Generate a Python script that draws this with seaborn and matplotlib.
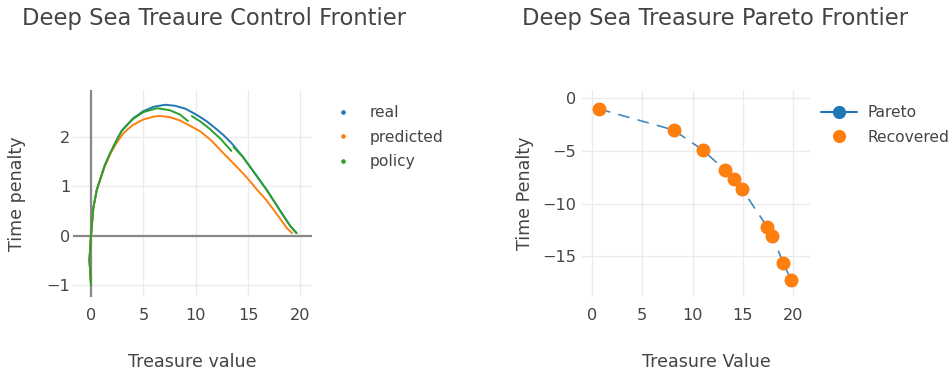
import pandas as pd
import matplotlib
matplotlib.use("Agg")
import matplotlib.pyplot as plt
from matplotlib.lines import Line2D
import seaborn as sns

# values
series_names = ["real", "predicted", "policy"]

real_x = [0.0, -0.15, 0.0, 0.22, 0.55, 0.86, 1.3, 1.82, 2.4, 2.93, 4.0, 5.0, 6.0, 7.08, 8.0,
          9.0, 9.79, 10.5, 11.07, 12.0, 12.66, 13.46, 14.5, 15.86, 16.8, 17.77, 18.5, 19.04, 19.6]
real_y = [-1.0, -0.49, 0.0, 0.56, 0.93, 1.13, 1.42, 1.67, 1.92, 2.13, 2.38, 2.53, 2.62, 2.66, 2.64,
          2.58, 2.49, 2.40, 2.32, 2.16, 2.04, 1.87, 1.60, 1.20, 0.92, 0.60, 0.36, 0.19, 0.05]

pred_x = [0.0, -0.15, 0.0, 0.22, 0.55, 0.86, 1.3, 1.82, 2.4, 3.09, 4.0, 5.0, 6.0, 6.6, 7.5,
          8.5, 9.47, 10.43, 11.5, 12.66, 14.0, 15.0, 15.86, 16.7, 17.45, 18.1, 18.7, 19.2]
pred_y = [-1.0, -0.49, 0.0, 0.56, 0.93, 1.13, 1.40, 1.65, 1.87, 2.08, 2.25, 2.36, 2.42, 2.43, 2.41,
          2.34, 2.23, 2.12, 1.93, 1.67, 1.38, 1.15, 0.93, 0.73, 0.52, 0.33, 0.15, 0.05]

# policy comes in three pieces
policy_x = [[0.0, -0.15, 0.0, 0.22, 0.55, 0.86, 1.3, 1.82, 2.4, 2.93, 4.0, 5.0, 6.29, 7.5, 8.5, 9.25],
            [9.63, 10.5, 11.39, 12.4, 13.4],
            [13.6, 14.5, 15.86, 16.8, 17.77, 18.5, 19.04, 19.65]]
policy_y = [[-1.0, -0.49, 0.0, 0.56, 0.93, 1.13, 1.42, 1.67, 1.92, 2.13, 2.37, 2.51, 2.59, 2.55, 2.46, 2.33],
            [2.43, 2.31, 2.16, 1.96, 1.72],
            [1.80, 1.60, 1.20, 0.92, 0.60, 0.36, 0.19, 0.05]]

pareto_x = [0.7, 8.1, 11.0, 13.2, 14.1, 14.9, 17.4, 17.9, 19.0, 19.8]
pareto_y = [-1.0, -3.0, -4.9, -6.8, -7.7, -8.6, -12.2, -13.1, -15.6, -17.3]
recovered_x = [0.7, 8.1, 11.0, 13.2, 14.1, 14.9, 17.4, 17.9, 19.0, 19.8]
recovered_y = [-1.0, -3.0, -4.9, -6.8, -7.7, -8.6, -12.2, -13.1, -15.6, -17.3]

colors = {"real": "#1f77b4", "predicted": "#ff7f0e", "policy": "#2ca02c"}
text_color = "#444444"

# long table for the control frontier
rows = []
for x, y in zip(real_x, real_y):
    rows.append(("real", "real", x, y))
for x, y in zip(pred_x, pred_y):
    rows.append(("predicted", "predicted", x, y))
for i, (xs, ys) in enumerate(zip(policy_x, policy_y)):
    for x, y in zip(xs, ys):
        rows.append(("policy", "policy%d" % i, x, y))
ctrl = pd.DataFrame(rows, columns=["series", "seg", "x", "y"])

sns.set_theme(style="whitegrid")
plt.rcParams["font.family"] = ["DejaVu Sans"]
plt.rcParams["axes.unicode_minus"] = True

fig = plt.figure(figsize=(9.52, 3.71), dpi=100)
ax1 = fig.add_axes([73 / 952, 74 / 371, 239 / 952, 207 / 371])
ax2 = fig.add_axes([582 / 952, 74 / 371, 228 / 952, 207 / 371])

# left: control frontier
sns.lineplot(data=ctrl, x="x", y="y", hue="series", units="seg", estimator=None, sort=False,
             hue_order=series_names, palette=colors, linewidth=1.4, legend=False, ax=ax1, zorder=3)
ax1.axhline(0, color="#888888", lw=1.6, zorder=2)
ax1.axvline(0, color="#888888", lw=1.6, zorder=2)
ax1.set_xlim(-1.72, 21.1)
ax1.set_ylim(-1.25, 2.96)
ax1.set_xticks([0, 5, 10, 15, 20])
ax1.set_yticks([-1, 0, 1, 2])

h1 = [Line2D([], [], ls="none", marker="o", ms=2.3, color=colors[s]) for s in series_names]
ax1.legend(h1, series_names, loc="upper left", bbox_to_anchor=(331 / 952, 1 - 105 / 371),
           bbox_transform=fig.transFigure, frameon=False, fontsize=11.2, borderpad=0,
           borderaxespad=0, handlelength=1.5, handletextpad=1.0, labelspacing=0.62,
           labelcolor=text_color)

# right: pareto frontier
sns.lineplot(x=pareto_x, y=pareto_y, color="#1f77b4", linestyle=(0, (7, 5)), linewidth=1.2,
             marker="o", markersize=9.5, markeredgewidth=0, ax=ax2, zorder=3, alpha=0.85)
sns.scatterplot(x=recovered_x, y=recovered_y, color="#ff7f0e", s=100, linewidth=0, ax=ax2, zorder=4)
ax2.set_xlim(-0.99, 21.66)
ax2.set_ylim(-18.87, 0.8)
ax2.set_xticks([0, 5, 10, 15, 20])
ax2.set_yticks([-15, -10, -5, 0])

h2 = [Line2D([], [], color="#1f77b4", lw=1.5, marker="o", ms=9.5, mew=0),
      Line2D([], [], ls="none", marker="o", ms=9.5, mew=0, color="#ff7f0e")]
ax2.legend(h2, ["Pareto", "Recovered"], loc="upper left", bbox_to_anchor=(821 / 952, 1 - 105 / 371),
           bbox_transform=fig.transFigure, frameon=False, fontsize=11.2, borderpad=0,
           borderaxespad=0, handlelength=2.3, handletextpad=0.7, labelspacing=0.62,
           labelcolor=text_color)

for ax in (ax1, ax2):
    for sp in ax.spines.values():
        sp.set_visible(False)
    ax.grid(True, color="#ebebeb", lw=1)
    ax.set_axisbelow(True)
    ax.tick_params(axis="both", length=0, labelsize=11.6, labelcolor=text_color)
    ax.tick_params(axis="x", pad=8)
    ax.tick_params(axis="y", pad=2)

ax2.tick_params(axis="y", pad=4)

ax1.set_xlabel("Treasure value", fontsize=12.6, color=text_color)
ax1.set_ylabel("Time penalty", fontsize=12.6, color=text_color, va="center")
ax2.set_xlabel("Treasure Value", fontsize=12.6, color=text_color)
ax2.set_ylabel("Time Penalty", fontsize=12.6, color=text_color, va="center")
ax1.xaxis.set_label_coords(0.5, -(362 - 297) / 207, transform=ax1.transAxes)
ax1.yaxis.set_label_coords((17.5 - 73) / 239, 0.5)
ax2.xaxis.set_label_coords((706 - 582) / 228, -(362 - 297) / 207)
ax2.yaxis.set_label_coords((525 - 582) / 228, 0.5)
ax1.xaxis.label.set_va("center")
ax2.xaxis.label.set_va("center")

fig.text(22 / 952, 1 - 18 / 371, "Deep Sea Treaure Control Frontier", fontsize=16.3,
         color=text_color, ha="left", va="center")
fig.text(522 / 952, 1 - 18 / 371, "Deep Sea Treasure Pareto Frontier", fontsize=16.3,
         color=text_color, ha="left", va="center")

fig.savefig("out.png", dpi=100)
